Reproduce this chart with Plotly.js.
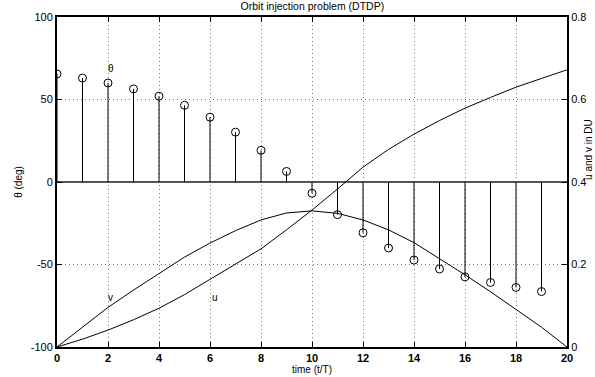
<!DOCTYPE html>
<html>
<head>
<meta charset="utf-8">
<script src="https://cdn.plot.ly/plotly-3.0.1.min.js"></script>
<style>html,body{margin:0;padding:0;background:#fff;overflow:hidden;}#chart{width:595px;height:377px;}</style>
</head>
<body>
<div id="chart"></div>
<script>
// stem data: theta (deg) at each stage
const stageTime = [0,1,2,3,4,5,6,7,8,9,10,11,12,13,14,15,16,17,18,19];
const thetaDeg = [65.5,63,60,56.4,52,46.5,39.3,30.2,19.2,6.4,-6.8,-19.8,-30.8,-40,-47.3,-52.7,-57.5,-60.9,-63.9,-66.4];
// velocity curves (DU)
const curveTime = [0,1,2,3,4,5,6,7,8,9,10,11,12,13,14,15,16,17,18,19,20];
const uVel = [0,0.019,0.041,0.066,0.094,0.127,0.164,0.200,0.238,0.284,0.332,0.383,0.436,0.479,0.516,0.549,0.579,0.605,0.630,0.651,0.672];
const vVel = [0,0.048,0.096,0.138,0.179,0.218,0.252,0.282,0.308,0.325,0.330,0.324,0.308,0.284,0.253,0.215,0.175,0.134,0.091,0.048,0];
// tick labels
const xTicks = [0,2,4,6,8,10,12,14,16,18,20];
const yTicks = [-100,-50,0,50,100];
const yTickText = ["-100","-50","0","50","100"];
const y2Ticks = [0,0.2,0.4,0.6,0.8];
const y2TickText = ["0","0.2","0.4","0.6","0.8"];

const stemX = [], stemY = [];
stageTime.forEach((t,i)=>{ stemX.push(t,t,null); stemY.push(0,thetaDeg[i],null); });

const FONT = "Liberation Sans, Arial, Helvetica, sans-serif";

const traces = [
  {x: stemX, y: stemY, mode: 'lines', line:{color:'#000', width:1}, hoverinfo:'skip', showlegend:false},
  {x: stageTime, y: thetaDeg, mode: 'markers', marker:{symbol:'circle-open', size:8, color:'#000', line:{width:1, color:'#000'}}, showlegend:false},
  {x: curveTime, y: uVel, yaxis:'y2', mode:'lines', line:{color:'#000', width:1}, showlegend:false},
  {x: curveTime, y: vVel, yaxis:'y2', mode:'lines', line:{color:'#000', width:1}, showlegend:false}
];

const layout = {
  width: 595, height: 377,
  margin: {l:57, r:28, t:17, b:30, pad:0},
  paper_bgcolor:'#fff', plot_bgcolor:'#fff',
  showlegend:false,
  font:{family:FONT, size:10, color:'#000'},
  title:{text:'Orbit injection problem (DTDP)', font:{family:FONT, size:10.5, color:'#000'}, x:0.525, xanchor:'center', y:0.992, yanchor:'top'},
  xaxis:{
    range:[0,20], tickvals:xTicks, ticktext:xTicks.map(String),
    tickfont:{family:FONT, size:11, weight:'bold'},
    ticks:'inside', ticklen:5, tickcolor:'#000', tickwidth:1,
    showline:true, linecolor:'#000', linewidth:2, mirror:'ticks',
    showgrid:true, gridcolor:'#777', griddash:'1px,3px', gridwidth:1,
    zeroline:false,
    title:{text:'time (t/T)', font:{family:FONT, size:10}, standoff:2}
  },
  yaxis:{
    range:[-100,100], tickvals:yTicks, ticktext:yTickText,
    tickfont:{family:FONT, size:11},
    ticks:'inside', ticklen:5, tickcolor:'#000', tickwidth:1,
    showline:true, linecolor:'#000', linewidth:2,
    showgrid:true, gridcolor:'#777', griddash:'1px,3px', gridwidth:1,
    zeroline:true, zerolinecolor:'#555', zerolinewidth:2,
    title:{text:'θ (deg)', font:{family:FONT, size:10}, standoff:6}
  },
  yaxis2:{
    overlaying:'y', side:'right', range:[0,0.8], tickvals:y2Ticks, ticktext:y2TickText,
    tickfont:{family:FONT, size:11},
    ticks:'inside', ticklen:5, tickcolor:'#000', tickwidth:1,
    showline:true, linecolor:'#000', linewidth:2,
    showgrid:false, zeroline:false
  },
  annotations:[
    {x:2.1, y:69, xref:'x', yref:'y', text:'θ', showarrow:false, font:{family:FONT, size:10}},
    {x:2.1, y:-70, xref:'x', yref:'y', text:'v', showarrow:false, font:{family:FONT, size:10}},
    {x:6.2, y:-70, xref:'x', yref:'y', text:'u', showarrow:false, font:{family:FONT, size:10}},
    {x:1.041, y:0.6, xref:'paper', yref:'paper', text:'u and v in DU', textangle:-90, showarrow:false, xanchor:'center', yanchor:'middle', font:{family:FONT, size:10}}
  ]
};

Plotly.newPlot('chart', traces, layout, {staticPlot:true, displayModeBar:false});
</script>
</body>
</html>
